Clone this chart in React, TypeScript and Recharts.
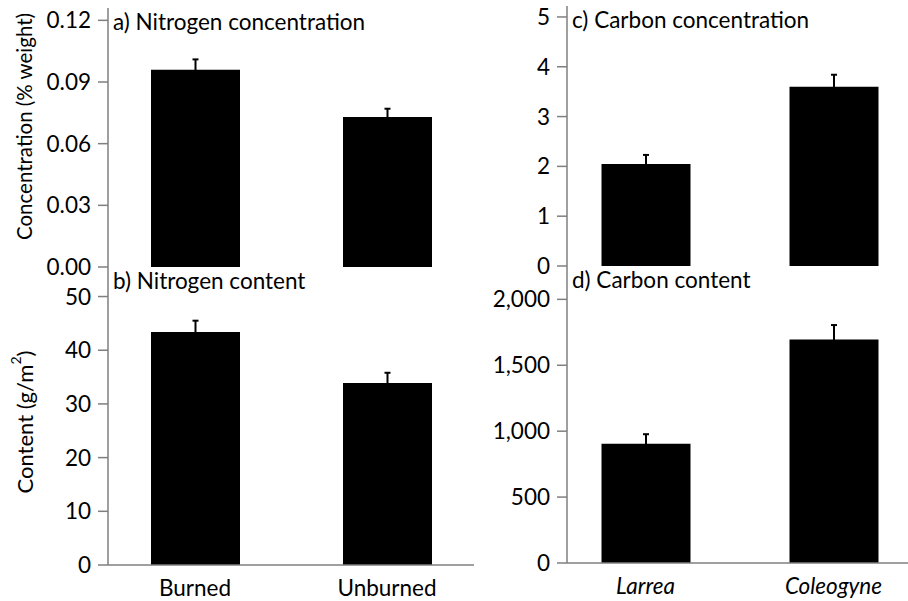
import React from "react";
import { Bar, BarChart, ErrorBar, XAxis, YAxis } from "recharts";

// treatments (left column) and species (right column)
const treatments = ["Burned", "Unburned"];
const species = ["Larrea", "Coleogyne"];

// a) nitrogen concentration, % weight (mean, SE)
const nitrogenConc = [0.096, 0.073];
const nitrogenConcErr = [0.005, 0.004];

// b) nitrogen content, g/m2
const nitrogenContent = [43.4, 33.9];
const nitrogenContentErr = [2.1, 1.9];

// c) carbon concentration
const carbonConc = [2.05, 3.6];
const carbonConcErr = [0.18, 0.24];

// d) carbon content
const carbonContent = [905, 1695];
const carbonContentErr = [72, 110];

const nConcTicks = [0, 0.03, 0.06, 0.09, 0.12];
const nContentTicks = [0, 10, 20, 30, 40, 50];
const cConcTicks = [0, 1, 2, 3, 4, 5];
const cContentTicks = [0, 500, 1000, 1500, 2000];

const GRAY = "#7f7f7f";
const FONT = 22.5;

type PanelProps = {
  categories: string[];
  values: number[];
  errors: number[];
  title: string;
  ticks: number[];
  domainMax: number;
  format: (v: number) => string;
  left: number;
  top: number;
  width: number;
  height: number;
  marginTop: number;
  marginBottom: number;
  yAxisWidth: number;
  xAxisHeight: number;
  pad: number;
  showCategories?: boolean;
  italic?: boolean;
  yLabel?: React.ReactNode;
  yLabelSize?: number;
  yLabelShift?: number;
};

const Panel: React.FC<PanelProps> = (p) => {
  const rows = p.categories.map((name, i) => ({
    name,
    value: p.values[i],
    err: p.errors[i],
  }));

  const renderYLabel = (props: any) => {
    const vb = props.viewBox;
    const cx = vb.x + 24;
    const cy = vb.y + vb.height / 2 + (p.yLabelShift ?? 0);
    return (
      <text
        x={cx}
        y={cy}
        transform={`rotate(-90 ${cx} ${cy})`}
        textAnchor="middle"
        dominantBaseline="central"
        fill="#000"
        fontSize={p.yLabelSize ?? FONT}
      >
        {p.yLabel}
      </text>
    );
  };

  return (
    <div style={{ position: "absolute", left: p.left, top: p.top }}>
      <BarChart
        width={p.width}
        height={p.height}
        data={rows}
        margin={{ top: p.marginTop, right: 0, bottom: p.marginBottom, left: 0 }}
        barSize={89}
      >
        <XAxis
          dataKey="name"
          height={p.xAxisHeight}
          padding={{ left: p.pad, right: p.pad }}
          axisLine={{ stroke: GRAY, strokeWidth: 1.5 }}
          tickLine={false}
          tickMargin={9}
          interval={0}
          tick={
            p.showCategories
              ? {
                  fill: "#000",
                  fontSize: FONT,
                  fontStyle: p.italic ? "italic" : "normal",
                }
              : false
          }
        />
        <XAxis
          xAxisId="top"
          orientation="top"
          dataKey="name"
          height={0}
          axisLine={{ stroke: GRAY, strokeWidth: 1.5 }}
          tickLine={false}
          tick={false}
        />
        <YAxis
          domain={[0, p.domainMax]}
          ticks={p.ticks}
          interval={0}
          tickFormatter={p.format}
          width={p.yAxisWidth}
          axisLine={{ stroke: GRAY, strokeWidth: 1.5 }}
          tickLine={{ stroke: GRAY, strokeWidth: 1.5 }}
          tickSize={10}
          tickMargin={7}
          tick={{ fill: "#000", fontSize: FONT }}
          label={p.yLabel ? renderYLabel : undefined}
        />
        <YAxis
          yAxisId="right"
          orientation="right"
          width={0}
          axisLine={{ stroke: GRAY, strokeWidth: 1.5 }}
          tickLine={false}
          tick={false}
        />
        <Bar dataKey="value" fill="#000" isAnimationActive={false}>
          <ErrorBar
            dataKey="err"
            direction="y"
            width={3}
            stroke="#000"
            strokeWidth={2}
          />
        </Bar>
        <text
          x={p.yAxisWidth + 5}
          y={p.marginTop + 22}
          fill="#000"
          fontSize={FONT}
        >
          {p.title}
        </text>
      </BarChart>
    </div>
  );
};

const fmt2 = (v: number) => v.toFixed(2);
const fmtInt = (v: number) => String(v);
const fmtThousands = (v: number) => v.toLocaleString("en-US");

export default function App() {
  return (
    <div
      style={{
        position: "absolute",
        left: 0,
        top: 0,
        width: 908,
        height: 601,
        overflow: "hidden",
        background: "#fff",
        fontFamily: "Lato, sans-serif",
      }}
    >
      <Panel
        categories={treatments}
        values={nitrogenConc}
        errors={nitrogenConcErr}
        title="a) Nitrogen concentration"
        ticks={nConcTicks}
        domainMax={0.126}
        format={fmt2}
        left={0}
        top={0}
        width={474}
        height={281}
        marginTop={8}
        marginBottom={14}
        yAxisWidth={108}
        xAxisHeight={0}
        pad={-9}
        yLabel="Concentration (% weight)"
        yLabelSize={20.5}
        yLabelShift={-11}
      />
      <Panel
        categories={treatments}
        values={nitrogenContent}
        errors={nitrogenContentErr}
        title="b) Nitrogen content"
        ticks={nContentTicks}
        domainMax={55.5}
        format={fmtInt}
        left={0}
        top={267}
        width={474}
        height={334}
        marginTop={0}
        marginBottom={0}
        yAxisWidth={108}
        xAxisHeight={36}
        pad={-9}
        showCategories
        yLabel={
          <>
            Content (g/m
            <tspan baselineShift="super" fontSize={14}>
              2
            </tspan>
            )
          </>
        }
        yLabelSize={22}
        yLabelShift={6}
      />
      <Panel
        categories={species}
        values={carbonConc}
        errors={carbonConcErr}
        title="c) Carbon concentration"
        ticks={cConcTicks}
        domainMax={5.22}
        format={fmtInt}
        left={480}
        top={0}
        width={432}
        height={280}
        marginTop={6}
        marginBottom={14}
        yAxisWidth={87}
        xAxisHeight={0}
        pad={-15.5}
      />
      <Panel
        categories={species}
        values={carbonContent}
        errors={carbonContentErr}
        title="d) Carbon content"
        ticks={cContentTicks}
        domainMax={2253}
        format={fmtThousands}
        left={480}
        top={266}
        width={432}
        height={335}
        marginTop={0}
        marginBottom={0}
        yAxisWidth={87}
        xAxisHeight={38}
        pad={-15.5}
        showCategories
        italic
      />
    </div>
  );
}
